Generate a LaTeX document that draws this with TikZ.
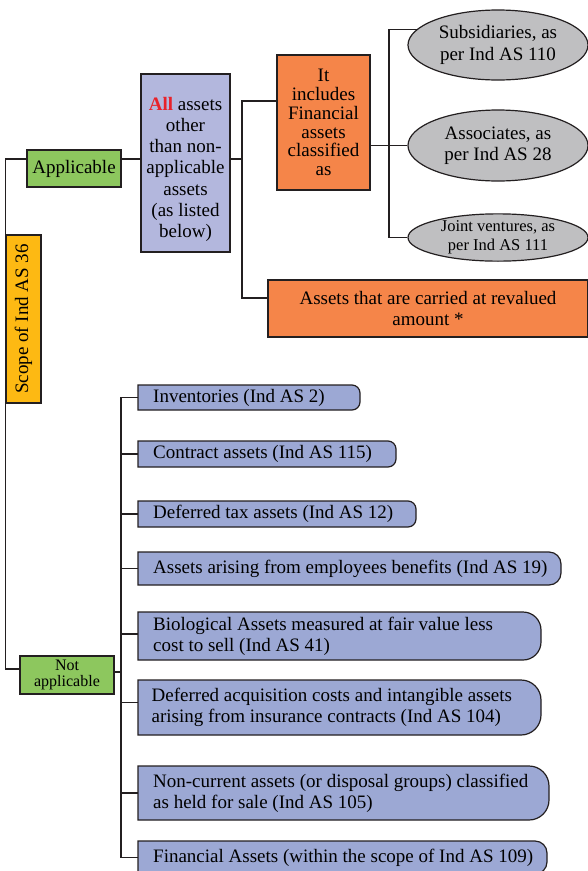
\documentclass[tikz,border=0pt]{standalone}
\usepackage{fontspec}
\setmainfont{Liberation Serif}
\usetikzlibrary{shapes.geometric}

\definecolor{scopegold}{HTML}{FDB913}
\definecolor{leafgreen}{HTML}{8DC75E}
\definecolor{lavender}{HTML}{B3B7DD}
\definecolor{burnt}{HTML}{F58549}
\definecolor{stone}{HTML}{BFBFC1}
\definecolor{listblue}{HTML}{9CA8D4}
\definecolor{allred}{HTML}{E8222A}
\definecolor{ink}{HTML}{231F20}

\tikzset{
  conn/.style={draw=ink, line width=1.1pt},
  boxline/.style={draw=ink, line width=1.2pt},
  plainbox/.style={boxline, rectangle, inner sep=0pt, align=center,
    font=\fontsize{19}{21.3}\selectfont},
  scopebox/.style={plainbox, fill=scopegold},
  greenbox/.style={plainbox, fill=leafgreen},
  lavbox/.style={plainbox, fill=lavender},
  orangebox/.style={plainbox, fill=burnt},
  oval/.style={boxline, ellipse, fill=stone, inner sep=0pt, align=center,
    font=\fontsize{19}{21.5}\selectfont},
  listshape/.style={boxline, fill=listblue},
  listtext/.style={inner xsep=15pt, inner ysep=0pt, align=left,
    font=\fontsize{19}{20.7}\selectfont},
}

% list entry: flat left side, rounded right corners
% #1 name, #2 left, #3 top, #4 right, #5 bottom, #6 corner radius, #7 text
\newcommand\listentry[7]{%
  \draw[listshape] (#2,-#3) -- ({#4-#6},-#3)
    arc[start angle=90, end angle=0, radius=#6] -- (#4,{-#5+#6})
    arc[start angle=0, end angle=-90, radius=#6] -- (#2,-#5) -- cycle;
  \node[listtext, anchor=west] (#1) at (#2,{-(#3+#5)/2}) {#7};
}

\begin{document}
\begin{tikzpicture}[x=1pt, y=1pt]
\useasboundingbox (0,0) rectangle (588,-871);

% ---------- upper branch ----------
\node[scopebox, rotate=90, minimum width=168pt, minimum height=35pt]
  (scope) at (23.5,-319) {Scope of Ind AS 36};
\node[greenbox, minimum width=94pt, minimum height=37pt]
  (app) at (74,-168.5) {Applicable};
\node[lavbox, minimum width=89pt, minimum height=178pt] (all) at (185.5,-163)
  {\rule{0pt}{26pt}\textcolor{allred}{\textbf{All}} assets\\other\\than non-\\applicable\\assets\\(as listed\\below)};
\node[orangebox, minimum width=93pt, minimum height=135pt,
      font=\fontsize{19}{18.8}\selectfont] (inc) at (323.5,-122.5)
  {It\\includes\\Financial\\assets\\classified\\as};
\node[oval, minimum width=180pt, minimum height=70pt] (sub) at (498,-45)
  {Subsidiaries, as\\per Ind AS 110};
\node[oval, minimum width=180pt, minimum height=71pt] (ass) at (498,-145.5)
  {Associates, as\\per Ind AS 28};
\node[oval, minimum width=180pt, minimum height=45pt,
      font=\fontsize{16.5}{19}\selectfont] (jv) at (498,-237.5)
  {Joint ventures, as\\per Ind AS 111};
\node[orangebox, minimum width=320pt, minimum height=57pt] (reval) at (428,-308.5)
  {Assets that are carried at revalued\\amount *};

% ---------- lower branch ----------
\node[greenbox, minimum width=94pt, minimum height=38pt,
      font=\fontsize{16}{16.5}\selectfont] (na) at (67,-675) {Not\\applicable};

\listentry{inv}{138}{385}{360}{410}{8}{Inventories (Ind AS 2)}
\listentry{con}{138}{441}{396}{467}{8}{Contract assets (Ind AS 115)}
\listentry{dta}{138}{501}{416}{527}{8}{Deferred tax assets (Ind AS 12)}
\listentry{emp}{138}{552}{561}{585}{12}{Assets arising from employees benefits (Ind AS 19)}
\listentry{bio}{138}{612}{541}{660}{18}{Biological Assets measured at fair value less\\cost to sell (Ind AS 41)}
\listentry{dac}{138}{680}{541}{735}{20}{\hspace*{-1.5pt}Deferred acquisition costs and intangible assets\\\hspace*{-1.5pt}arising from insurance contracts (Ind AS 104)}
\listentry{nca}{138}{766}{549}{820}{20}{Non-current assets (or disposal groups) classified\\as held for sale (Ind AS 105)}
\listentry{fin}{138}{841}{547}{874}{12}{Financial Assets (within the scope of Ind AS 109)}

% ---------- connectors ----------
\coordinate (forkA) at (242,-159);
\coordinate (forkB) at (389,-145.5);
\coordinate (forkC) at (121,-672);

\draw[conn] ([yshift=9.5pt]app.west) -- ++(-21,0) |- ([yshift=6pt]na.west);
\draw[conn] ([yshift=9.5pt]app.east) -- ([yshift=4pt]all.west);
\draw[conn] ([yshift=4pt]all.east) -- (forkA);
\draw[conn] ([yshift=21.5pt]inc.west) -| (forkA) |- ([yshift=10.5pt]reval.west);
\draw[conn] ([yshift=-23pt]inc.east) -- (ass.west);
\draw[conn] (sub.169) -| (forkB) |- (jv.west);

\draw[conn] ([yshift=3pt]na.east) -- (forkC);
\draw[conn] (inv.west) -| (forkC) |- (fin.west);
\draw[conn] (forkC |- con.west) -- (con.west);
\draw[conn] (forkC |- dta.west) -- (dta.west);
\draw[conn] (forkC |- emp.west) -- (emp.west);
\draw[conn] ([yshift=2pt]forkC |- bio.west) -- ([yshift=2pt]bio.west);
\draw[conn] ([yshift=5pt]forkC |- dac.west) -- ([yshift=5pt]dac.west);
\draw[conn] (forkC |- nca.west) -- (nca.west);
\end{tikzpicture}
\end{document}
